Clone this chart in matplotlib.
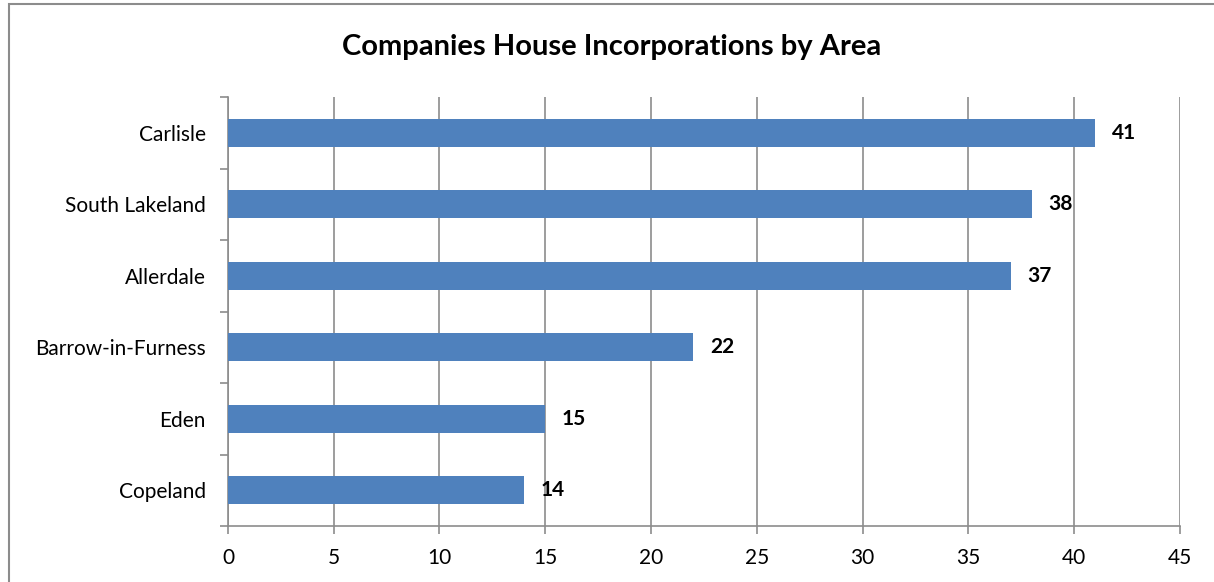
import matplotlib.pyplot as plt
from matplotlib.patches import Rectangle

areas = ["Copeland", "Eden", "Barrow-in-Furness", "Allerdale", "South Lakeland", "Carlisle"]
counts = [14, 15, 22, 37, 38, 41]
xticks = [0, 5, 10, 15, 20, 25, 30, 35, 40, 45]

plt.rcParams['font.family'] = ['Lato', 'DejaVu Sans']
grey = '#8c8c8c'
blue = '#4f81bd'

fig = plt.figure(figsize=(12.14, 5.82), dpi=100)
ax = fig.add_axes([0.1878, 0.0962, 0.784, 0.7371])

# outer chart border (right/bottom run off the picture)
fig.patches.append(Rectangle((9 / 1214, -0.1), 1.2, 1 - 4 / 582 + 0.1,
                             transform=fig.transFigure, fill=False,
                             edgecolor=grey, linewidth=1.5))

ypos = list(range(len(areas)))
ax.barh(ypos, counts, height=0.39, color=blue, zorder=3)
for y, v in zip(ypos, counts):
    ax.annotate(str(v), (v, y), xytext=(12, 0), textcoords='offset points',
                va='center', ha='left', fontsize=15, fontweight='bold')

ax.set_xlim(0, 45)
ax.set_ylim(-0.5, len(areas) - 0.5)
ax.set_xticks(xticks)
ax.set_yticks(ypos)
ax.set_yticklabels(areas)
ax.set_yticks([i - 0.5 for i in range(len(areas) + 1)], minor=True)
ax.tick_params(axis='y', which='major', length=0, pad=16, labelsize=15)
ax.tick_params(axis='y', which='minor', length=6, color=grey, width=1.2)
ax.tick_params(axis='x', length=6, color=grey, width=1.2, pad=10, labelsize=15)

ax.grid(axis='x', color=grey, linewidth=1.2, zorder=0)
for s in ['top', 'right']:
    ax.spines[s].set_visible(False)
for s in ['left', 'bottom']:
    ax.spines[s].set_color(grey)
    ax.spines[s].set_linewidth(1.2)

fig.text(0.504, 0.919, "Companies House Incorporations by Area", ha='center',
         va='center', fontsize=21, fontweight='bold')

fig.savefig("out.png", dpi=100)
